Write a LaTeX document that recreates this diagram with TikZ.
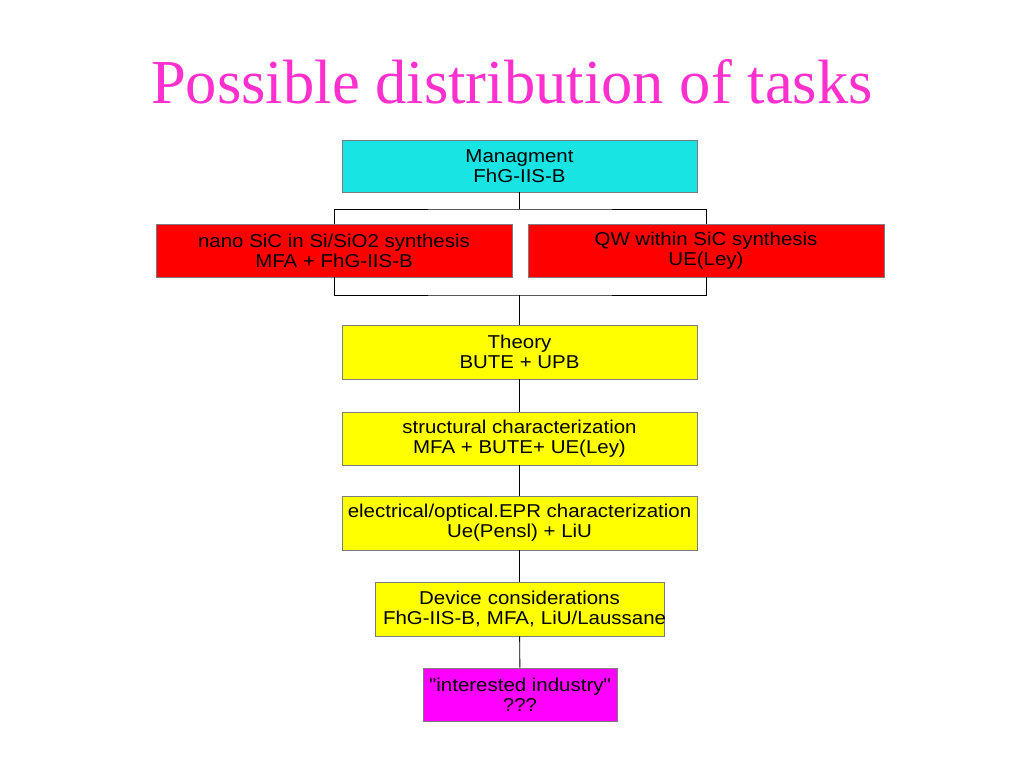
\documentclass[tikz,border=0pt]{standalone}
\usepackage{fontspec}
\newfontfamily\boxfont[FakeStretch=1.1]{Liberation Sans}
\newfontfamily\titlefont{Liberation Serif}
\definecolor{titlepink}{RGB}{255,48,205}
\definecolor{mgmtcyan}{RGB}{25,228,228}
\definecolor{synthred}{RGB}{255,0,0}
\definecolor{taskyellow}{RGB}{255,255,0}
\definecolor{industrypink}{RGB}{255,0,255}
\definecolor{boxline}{RGB}{125,125,125}
\tikzset{
  task/.style={draw=boxline, line width=0.8pt, inner sep=0pt,
    minimum height=53pt, align=center, font={\boxfont\fontsize{18.6}{19.8}\selectfont}},
  link/.style={draw=black, line width=0.9pt}
}
\begin{document}
\begin{tikzpicture}[x=1pt,y=-1pt]
      \useasboundingbox (0,0) rectangle (1024,768);
      \node (title) [anchor=base, text=titlepink, font={\titlefont\fontsize{62.6}{62.6}\selectfont}] at (512,103) {Possible distribution of tasks};
      \node (mgmt) [task, fill=mgmtcyan, minimum width=355pt, minimum height=52pt] at (519.5,166) {Managment\\FhG-IIS-B};
      \node (nano) [task, fill=synthred, minimum width=356pt] at (334,250.5) {nano SiC in Si/SiO2 synthesis\\MFA + FhG-IIS-B};
      \node (qw) [task, fill=synthred, minimum width=356pt] at (706,250.5) {QW within SiC synthesis\\UE(Ley)};
      \node (theory) [task, fill=taskyellow, minimum width=355pt, minimum height=54pt] at (519.5,352) {Theory\\BUTE + UPB};
      \node (struct) [task, fill=taskyellow, minimum width=355pt] at (519.5,438.5) {structural characterization\\MFA + BUTE+ UE(Ley)};
      \node (elec) [task, fill=taskyellow, minimum width=355pt, minimum height=54pt] at (519.5,523) {electrical/optical.EPR characterization\\Ue(Pensl) + LiU};
      \node (device) [task, fill=taskyellow, inner xsep=8pt, text width=273pt, minimum height=54pt] at (519.5,609) {Device considerations\\\mbox{FhG-IIS-B, MFA, LiU/Laussane}};
      \node (industry) [task, fill=industrypink, minimum width=194pt] at (520,694.5) {"interested industry"\\???};
      \coordinate (topbar) at (519.5,209);
      \coordinate (botbar) at (519.5,295);
      \draw[link] (mgmt) -- (topbar);
      \draw[link] (nano.north) |- (topbar) -| (qw.north);
      \draw[link] (nano.south) |- (botbar) -| (qw.south);
      \draw[link] (botbar) -- (theory);
      \draw[link] (theory) -- (struct);
      \draw[link] (struct) -- (elec);
      \draw[link] (elec) -- (device);
      \draw[link] (device) -- (industry);
\end{tikzpicture}
\end{document}
